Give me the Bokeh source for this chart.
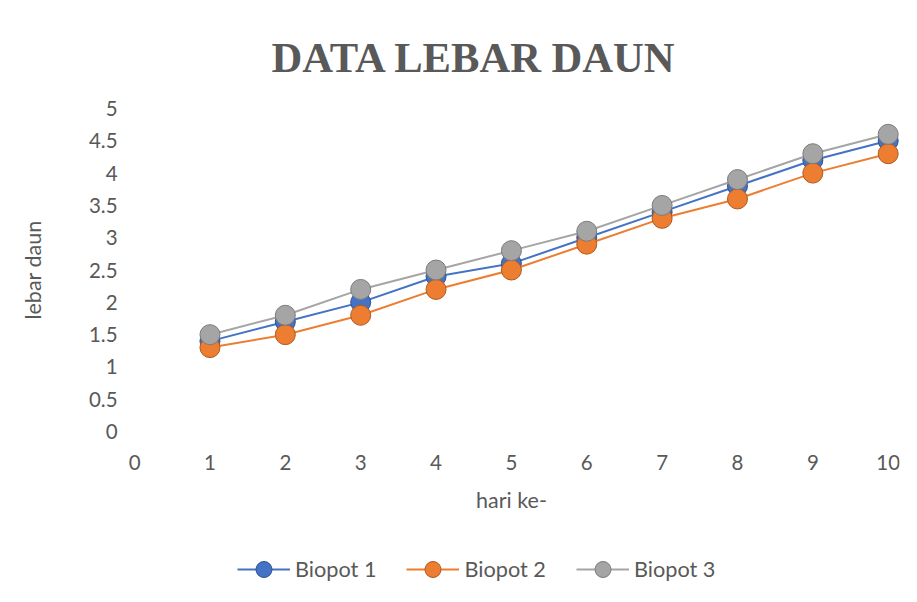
from bokeh.plotting import figure
from bokeh.models import Range1d, FixedTicker, Legend, LegendItem
from bokeh.embed import file_html
from bokeh.resources import INLINE

days = [1, 2, 3, 4, 5, 6, 7, 8, 9, 10]
biopot1 = [1.4, 1.7, 2.0, 2.4, 2.6, 3.0, 3.4, 3.8, 4.2, 4.5]
biopot2 = [1.3, 1.5, 1.8, 2.2, 2.5, 2.9, 3.3, 3.6, 4.0, 4.3]
biopot3 = [1.5, 1.8, 2.2, 2.5, 2.8, 3.1, 3.5, 3.9, 4.3, 4.6]
series_names = ["Biopot 1", "Biopot 2", "Biopot 3"]
x_ticks = [0, 1, 2, 3, 4, 5, 6, 7, 8, 9, 10]
y_ticks = [0, 0.5, 1, 1.5, 2, 2.5, 3, 3.5, 4, 4.5, 5]

colors = ["#4472C4", "#ED7D31", "#A5A5A5"]
dark = ["#2F528F", "#AE5A21", "#7B7B7B"]
TEXT = "#595959"
FONT = "Lato"

# frame covers the whole chart area; axes are pinned at x=0 / y=0
p = figure(width=917, height=600, output_backend="svg", toolbar_location=None,
           x_range=Range1d(-1.7, 10.15), y_range=Range1d(-2.49, 5.139),
           min_border_left=6, min_border_right=18, min_border_top=99,
           min_border_bottom=8)
p.outline_line_color = None
p.grid.visible = False
p.background_fill_color = "white"
p.border_fill_color = "white"

p.title.text = "DATA LEBAR DAUN"
p.title.text_font = "Liberation Serif"
p.title.text_font_style = "bold"
p.title.text_font_size = "42.6px"
p.title.text_color = TEXT
p.title.align = "left"
p.title.offset = 265
p.title.standoff = 37

for ax in (p.xaxis[0], p.yaxis[0]):
    ax.axis_line_color = None
    ax.major_tick_line_color = None
    ax.minor_tick_line_color = None
    ax.major_label_text_font = FONT
    ax.major_label_text_font_size = "20.5px"
    ax.major_label_text_color = TEXT
    ax.axis_label_text_font = FONT
    ax.axis_label_text_font_size = "21.5px"
    ax.axis_label_text_font_style = "normal"
    ax.axis_label_text_color = TEXT

p.xaxis.ticker = FixedTicker(ticks=x_ticks)
p.yaxis.ticker = FixedTicker(ticks=y_ticks)
p.xaxis.major_label_overrides = {t: str(t) for t in x_ticks}
p.yaxis.major_label_overrides = {t: (str(t) if t != int(t) else str(int(t))) for t in y_ticks}
p.xaxis.axis_label = "hari ke-"
p.yaxis.axis_label = "lebar daun"
p.xaxis.fixed_location = 0
p.yaxis.fixed_location = 0
p.xaxis.bounds = (0, 10)
p.yaxis.bounds = (0, 5)
p.xaxis.major_label_standoff = 17
p.xaxis.axis_label_standoff = 14
p.yaxis.major_label_standoff = 11
p.yaxis.axis_label_standoff = 40

items = []
for vals, c, d, name in zip([biopot1, biopot2, biopot3], colors, dark, series_names):
    ln = p.line(days, vals, line_color=c, line_width=2)
    sc = p.scatter(days, vals, size=20, fill_color=c, line_color=d, line_width=1)
    items.append(LegendItem(label=name, renderers=[ln, sc]))

legend = Legend(items=items, orientation="horizontal", location=(231, 3),
                label_text_font=FONT, label_text_font_size="21.7px",
                label_text_color=TEXT, glyph_width=53, glyph_height=40,
                label_standoff=5, spacing=30, border_line_color=None,
                background_fill_alpha=0, padding=0, margin=0)
p.add_layout(legend, "center")

open("out.html", "w").write(file_html(p, INLINE))
